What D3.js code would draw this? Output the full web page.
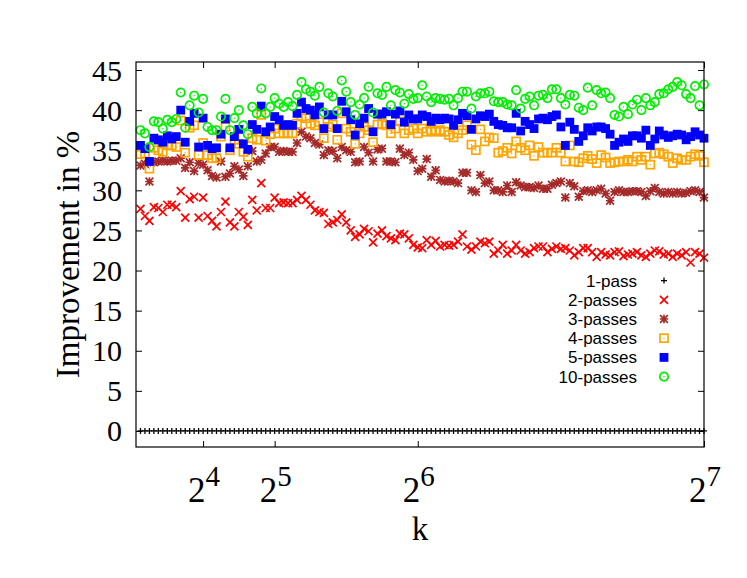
<!DOCTYPE html>
<html><head><meta charset="utf-8">
<script src="https://cdn.jsdelivr.net/npm/d3@7"></script>
<style>body{margin:0;background:#fff}</style>
</head><body>
<svg id="chart" width="747" height="578"></svg>
<script>
// k values (x categories)
const kValues = d3.range(2, 129);

const pass1 = [
0,0,0,0,0,0,0,0,0,0, 0,0,0,0,0,0,0,0,0,0, 0,0,0,0,0,0,0,0,0,0,
0,0,0,0,0,0,0,0,0,0, 0,0,0,0,0,0,0,0,0,0, 0,0,0,0,0,0,0,0,0,0,
0,0,0,0,0,0,0,0,0,0, 0,0,0,0,0,0,0,0,0,0, 0,0,0,0,0,0,0,0,0,0,
0,0,0,0,0,0,0,0,0,0, 0,0,0,0,0,0,0,0,0,0, 0,0,0,0,0,0,0,0,0,0,
0,0,0,0,0,0,0];

const pass2 = [
27.7,26.8,26.2,27.9,27.8,27.3,28.2,28.2,27.9,29.9,
26.6,28.9,29.2,26.6,29.1,26.8,26.2,25.5,27.3,28.6,
26.0,25.5,27.3,26.7,25.7,28.8,27.5,30.9,27.8,27.8,
29.1,28.4,28.5,28.4,28.4,28.8,29.3,28.8,28.2,27.5,
27.3,27.2,25.8,26.0,26.3,27.0,26.0,25.0,24.2,24.5,
25.2,24.9,23.5,24.6,25.0,24.3,24.0,23.8,24.6,24.5,
24.0,23.2,22.9,22.8,23.8,23.2,23.7,23.0,23.2,23.1,
23.2,23.6,24.5,23.0,22.6,23.0,23.6,23.4,23.6,22.1,
22.5,23.2,22.1,22.5,23.2,22.5,22.1,22.3,22.8,23.0,
23.0,22.3,22.7,23.0,22.7,22.8,22.5,21.9,22.3,22.8,
22.8,22.3,21.7,22.3,22.0,21.9,22.3,22.4,21.8,22.0,
22.1,22.3,21.9,21.7,22.1,22.5,22.4,22.0,22.1,21.7,
22.1,21.9,22.3,21.0,22.3,22.1,21.6];

const pass3 = [
33.1,33.3,31.1,33.5,33.6,33.7,33.6,33.7,33.7,34.0,
32.8,33.5,32.4,33.4,33.2,32.5,31.8,31.6,33.6,31.7,
32.1,33.0,32.6,31.8,33.0,34.9,33.6,33.8,34.6,35.4,
35.4,34.8,34.9,34.8,34.8,35.9,37.3,36.7,36.5,35.9,
35.7,34.4,35.0,34.9,34.0,35.4,35.0,34.8,33.5,33.6,
35.4,34.7,33.6,35.1,35.2,33.6,33.6,33.5,35.2,34.4,
34.7,33.8,32.4,32.7,33.9,31.7,32.5,31.3,31.1,31.2,
31.1,30.9,32.2,32.2,30.0,29.8,31.9,30.9,31.1,30.0,
30.0,29.8,30.6,29.8,31.0,30.6,30.4,30.4,30.3,30.6,
30.2,30.2,30.7,30.9,31.1,29.1,30.9,30.5,29.2,29.9,
30.0,29.8,30.0,30.2,29.6,28.7,29.8,30.0,29.8,29.8,
29.9,29.9,29.8,29.3,29.9,30.3,29.8,29.6,29.8,29.6,
29.8,29.6,29.7,29.9,30.0,29.8,29.1];

const pass4 = [
34.5,34.6,32.7,35.3,35.0,34.8,35.6,35.6,35.4,38.7,
34.7,37.8,38.1,34.4,35.9,34.4,34.0,34.0,36.7,37.9,
35.0,36.3,35.8,34.8,34.2,36.5,36.3,39.4,36.2,37.0,
37.7,37.1,37.1,37.1,37.1,38.3,39.2,39.0,38.3,38.1,
38.5,36.5,37.9,38.2,36.3,39.6,37.7,37.3,35.8,37.1,
37.9,37.5,36.0,38.2,38.3,38.1,37.1,37.7,38.6,37.1,
37.5,37.7,37.1,37.7,37.3,37.5,37.3,37.5,37.3,36.9,
36.6,37.1,37.5,38.1,35.7,35.0,37.6,36.1,36.6,36.5,
34.7,34.9,35.3,34.6,36.1,35.3,35.0,35.6,34.3,35.4,
34.7,34.7,34.7,35.3,34.7,33.6,35.6,33.6,33.5,34.0,
34.3,33.9,33.4,34.4,34.1,33.4,33.5,33.6,33.6,33.8,
33.6,34.2,33.8,34.2,33.2,34.6,34.7,34.5,34.2,33.4,
34.0,33.8,33.8,34.2,34.5,34.3,33.5];

const pass5 = [
35.6,35.2,33.6,36.5,36.3,36.0,36.8,36.4,36.7,40.0,
36.0,38.6,39.6,35.4,39.0,35.6,35.2,35.3,37.0,38.9,
35.3,36.7,37.6,35.8,35.1,38.2,37.6,40.5,37.3,37.9,
39.2,38.8,38.1,38.2,38.1,39.6,41.0,40.2,40.0,39.4,
40.4,37.7,39.4,39.4,37.7,41.1,39.8,38.8,36.9,38.3,
39.0,40.2,37.3,39.5,39.5,39.8,38.2,39.5,39.9,38.5,
39.4,38.9,38.9,39.4,39.2,38.6,39.0,38.8,39.0,38.9,
38.1,38.8,39.6,39.3,37.6,38.9,39.3,39.2,39.5,38.6,
38.2,38.1,37.8,37.8,39.6,37.4,38.6,38.2,37.7,38.9,
39.0,38.8,39.2,39.4,37.9,35.6,38.5,37.6,36.1,36.8,
37.8,37.4,37.9,37.9,37.7,37.0,35.6,36.0,36.4,36.1,
36.8,36.8,36.5,37.5,35.6,36.4,37.4,36.9,36.6,36.8,
37.0,36.9,36.3,36.7,37.3,36.9,36.5];

const pass10 = [
37.5,37.1,35.4,38.6,38.5,37.7,38.8,38.5,38.9,42.2,
37.8,40.6,41.8,39.7,41.4,37.9,37.5,37.5,39.2,41.4,
37.5,39.0,40.0,38.1,37.0,40.4,39.6,42.7,39.6,40.4,
41.5,40.8,40.4,41.0,40.5,41.9,43.5,42.6,42.3,41.8,
42.9,39.7,42.1,41.7,39.9,43.7,42.3,41.0,39.4,40.7,
41.5,42.9,39.7,42.1,41.9,42.9,40.6,42.5,42.2,40.8,
42.0,41.4,41.5,43.1,41.7,41.0,41.5,41.4,41.3,41.4,
40.6,41.5,42.3,42.3,40.2,41.7,42.1,42.1,42.3,41.1,
41.0,41.0,40.7,40.6,42.5,40.2,41.4,41.7,40.6,41.8,
41.9,41.5,42.6,42.6,41.5,40.7,41.9,41.8,40.3,40.0,
42.8,40.6,42.5,42.1,42.2,41.5,39.4,39.2,40.4,39.5,
40.7,41.3,40.0,41.5,40.6,41.0,42.0,42.1,42.6,42.9,
43.5,43.1,42.0,41.5,43.0,40.6,43.2];

const seriesNames = ["1-pass","2-passes","3-passes","4-passes","5-passes","10-passes"];
const seriesValues = [pass1, pass2, pass3, pass4, pass5, pass10];
const seriesColors = ["#000000","#ff0000","#a52a2a","#ffa500","#0000ff","#00ee00"];
const seriesMarkers = ["plus","cross","star","openSquare","fillSquare","openCircle"];

const xTickValues = [16, 32, 64, 128];
const xTickBase = ["2","2","2","2"];
const xTickExp = ["4","5","6","7"];
const yTickValues = [0,5,10,15,20,25,30,35,40,45];

const svg = d3.select("#chart");
const L = 136, R = 704, T = 62, B = 447;
const x = d3.scaleLinear().domain([1, 128]).range([L, R]);
const y = d3.scaleLinear().domain([-2, 46]).range([B, T]);

const serif = "'Liberation Serif','Times New Roman',serif";
const sans = "'Liberation Sans',Arial,sans-serif";

// ticks (mirrored, inward)
const tickLen = 6;
const axL = svg.append("g").attr("transform", `translate(${L},0)`)
  .call(d3.axisLeft(y).tickValues(yTickValues).tickSize(-tickLen).tickFormat(""));
const axR = svg.append("g").attr("transform", `translate(${R},0)`)
  .call(d3.axisRight(y).tickValues(yTickValues).tickSize(-tickLen).tickFormat(""));
const axB = svg.append("g").attr("transform", `translate(0,${B})`)
  .call(d3.axisBottom(x).tickValues(xTickValues).tickSize(-tickLen).tickFormat(""));
const axT = svg.append("g").attr("transform", `translate(0,${T})`)
  .call(d3.axisTop(x).tickValues(xTickValues).tickSize(-tickLen).tickFormat(""));
[axL, axR, axB, axT].forEach(g => {
  g.select(".domain").remove();
  g.selectAll("line").attr("stroke", "#000").attr("stroke-width", 1);
});

// y tick labels
svg.append("g").selectAll("text").data(yTickValues).join("text")
  .attr("x", 122).attr("y", d => y(d)).attr("dy", "0.35em")
  .attr("text-anchor", "end").attr("font-family", serif).attr("font-size", 30)
  .text(d => d);

// x tick labels 2^n
const xl = svg.append("g").selectAll("text").data(xTickValues).join("text")
  .attr("x", d => x(d) + 1).attr("y", 502)
  .attr("text-anchor", "middle").attr("font-family", serif).attr("font-size", 35);
xl.append("tspan").text((d, i) => xTickBase[i]);
xl.append("tspan").attr("font-size", 29).attr("dy", -16).text((d, i) => xTickExp[i]);

// axis titles
svg.append("text").attr("x", (L + R) / 2).attr("y", 540)
  .attr("text-anchor", "middle").attr("font-family", serif).attr("font-size", 33).text("k");
svg.append("text").attr("transform", `translate(79,${(T + B) / 2}) rotate(-90)`)
  .attr("text-anchor", "middle").attr("font-family", serif).attr("font-size", 33)
  .text("Improvement in %");

// marker drawing
function drawMarker(g, type, color) {
  const sw = 1.7;
  if (type === "plus") {
    g.append("path").attr("d", "M-3,0H3M0,-3V3").attr("stroke", color).attr("stroke-width", 1.3).attr("fill", "none");
  } else if (type === "cross") {
    g.append("path").attr("d", "M-4,-4L4,4M-4,4L4,-4").attr("stroke", color).attr("stroke-width", sw).attr("fill", "none");
  } else if (type === "star") {
    g.append("path").attr("d", "M-3.9,-3.9L3.9,3.9M-3.9,3.9L3.9,-3.9M-4.2,0H4.2M0,-4.2V4.2").attr("stroke", color).attr("stroke-width", sw).attr("fill", "none");
  } else if (type === "openSquare") {
    g.append("rect").attr("x", -4).attr("y", -4).attr("width", 8).attr("height", 8)
      .attr("stroke", color).attr("stroke-width", sw).attr("fill", "none");
    g.append("rect").attr("x", -0.6).attr("y", -0.6).attr("width", 1.2).attr("height", 1.2).attr("fill", color);
  } else if (type === "fillSquare") {
    g.append("rect").attr("x", -4.4).attr("y", -4.4).attr("width", 8.8).attr("height", 8.8)
      .attr("fill", color);
  } else if (type === "openCircle") {
    g.append("circle").attr("r", 4.2).attr("stroke", color).attr("stroke-width", sw).attr("fill", "none");
    g.append("rect").attr("x", -0.6).attr("y", -0.6).attr("width", 1.2).attr("height", 1.2).attr("fill", color);
  }
}

// data points
seriesValues.forEach((vals, si) => {
  const g = svg.append("g");
  g.selectAll("g").data(vals).join("g")
    .attr("transform", (d, i) => `translate(${x(kValues[i])},${y(d)})`)
    .each(function () { drawMarker(d3.select(this), seriesMarkers[si], seriesColors[si]); });
});

// legend
const lg = svg.append("g");
const legendStep = 19.2;
seriesNames.forEach((name, i) => {
  const yy = 328.6 + (i - 2.5) * legendStep;
  lg.append("text").attr("x", 637).attr("y", yy).attr("dy", "0.35em")
    .attr("text-anchor", "end").attr("font-family", sans).attr("font-size", 17).text(name);
  const m = lg.append("g").attr("transform", `translate(664,${yy})`);
  drawMarker(m, seriesMarkers[i], seriesColors[i]);
});

// frame
svg.append("rect").attr("x", L).attr("y", T).attr("width", R - L).attr("height", B - T)
  .attr("fill", "none").attr("stroke", "#000").attr("stroke-width", 1.2);
</script>
</body></html>
